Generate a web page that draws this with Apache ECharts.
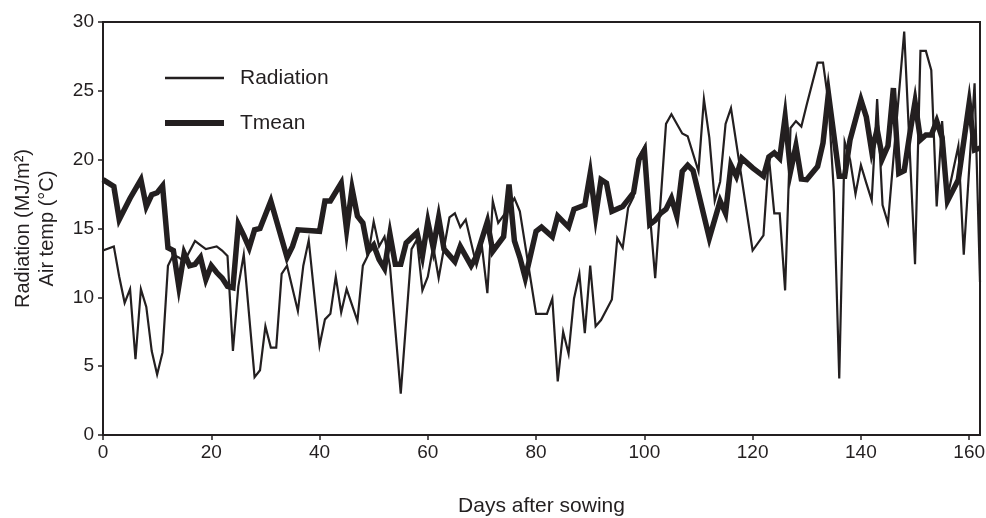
<!DOCTYPE html>
<html>
<head>
<meta charset="utf-8">
<script src="https://cdn.jsdelivr.net/npm/echarts@6/dist/echarts.min.js"></script>
<style>
html,body{margin:0;padding:0;background:#fff;}
#chart{width:986px;height:518px;}
</style>
</head>
<body>
<div id="chart"></div>
<script>
// ---- Data ----
const radDays = [0,2,3,4,5,6,7,8,9,10,11,12,13,14,15,17,18,19,20,21,22,23,24,25,26,28,29,30,31,32,33,34,36,37,38,40,41,42,43,44,45,47,48,49,50,51,52,53,55,57,58,59,60,61,62,64,65,66,67,69,70,71,72,73,75,76,77,80,82,83,84,85,86,87,88,89,90,91,92,94,95,96,97,98,99,100,102,104,105,107,108,110,111,112,113,114,115,116,120,122,123,124,125,126,127,128,129,130,132,133,134,135,136,137,138,139,140,141,142,143,144,145,148,150,151,152,153,154,155,156,158,159,161,162];
const radVals = [13.4,13.7,11.5,9.6,10.6,5.5,10.6,9.3,6.1,4.4,6.0,12.3,13.1,12.9,12.6,14.1,13.8,13.5,13.6,13.7,13.4,13.0,6.1,10.8,13.1,4.2,4.7,7.9,6.35,6.35,11.7,12.3,9.0,12.3,14.15,6.5,8.4,8.8,11.5,8.9,10.6,8.3,12.3,13.1,15.5,13.7,14.4,12.3,3.0,13.5,14.2,10.5,11.5,13.7,11.4,15.8,16.1,15.1,15.65,12.3,13.7,10.3,17.0,15.4,16.5,17.2,16.25,8.8,8.8,9.9,3.9,7.5,5.9,9.9,11.7,7.4,12.3,7.9,8.35,9.85,14.3,13.6,16.5,17.3,20.2,20.9,11.4,22.6,23.3,21.9,21.7,19.15,24.4,21.6,17.0,18.4,22.6,23.75,13.4,14.5,20.2,16.1,16.1,10.5,22.3,22.8,22.4,24.0,27.05,27.05,24.2,17.7,4.1,21.3,20.0,17.5,19.6,18.3,17.05,24.4,16.7,15.4,29.3,12.4,27.9,27.9,26.5,16.6,22.8,17.3,21.0,13.1,25.55,11.1];

const tDays = [0,2,3,5,7,8,9,10,11,12,13,14,15,16,17,18,19,20,21,22,23,24,25,26,27,28,29,31,34,35,36,40,41,42,44,45,46,47,48,49,50,51,52,53,54,55,56,58,59,60,61,62,63,65,66,68,69,71,72,74,75,76,77,78,80,81,83,84,86,87,89,90,91,92,93,94,96,97,98,99,100,101,102,103,104,105,106,107,108,109,112,114,115,116,117,118,120,122,123,124,125,126,127,128,129,130,132,133,134,136,137,138,140,141,142,143,144,145,146,147,148,149,150,151,152,153,154,155,156,158,160,161,162];
const tVals = [18.55,18.05,15.65,17.2,18.55,16.6,17.45,17.6,18.1,13.6,13.4,10.8,13.2,12.3,12.4,12.9,11.3,12.3,11.8,11.4,10.8,10.7,15.3,14.5,13.6,14.9,15.0,17.0,12.9,13.7,14.9,14.8,17.0,17.0,18.3,14.9,17.9,15.9,15.4,13.35,13.8,12.75,12.1,14.6,12.4,12.4,13.95,14.7,13.0,15.5,13.6,15.8,13.5,12.6,13.7,12.3,13.0,15.5,13.35,14.4,18.2,14.1,12.9,11.4,14.8,15.1,14.4,15.9,15.1,16.4,16.7,19.0,15.9,18.55,18.3,16.25,16.6,17.1,17.6,20.0,20.7,15.3,15.6,16.1,16.4,17.2,15.9,19.15,19.6,19.2,14.3,17.0,16.1,19.6,18.8,20.1,19.4,18.8,20.2,20.5,20.1,23.1,19.15,21.0,18.6,18.55,19.5,21.2,24.8,18.8,18.8,21.45,24.35,23.1,20.6,22.2,20.1,21.0,25.2,19.0,19.2,21.8,24.2,21.45,21.8,21.8,22.8,21.6,17.0,18.55,24.1,20.7,20.85];

const xTicks = [0,20,40,60,80,100,120,140,160];
const yTicks = [0,5,10,15,20,25,30];
const seriesNames = ['Radiation','Tmean'];
const xName = 'Days after sowing';
const yName = 'Radiation (MJ/m²)\nAir temp (°C)';

const ink = '#231f20';
const font = 'Liberation Sans, Arial, sans-serif';

function legendFor(name, top, thickness) {
  return {
    data: [name],
    orient: 'vertical',
    left: 165, top: top,
    icon: 'rect',
    itemWidth: 59, itemHeight: thickness,
    itemStyle: {color: ink, borderWidth: 0},
    textStyle: {fontFamily: font, fontSize: 21, color: ink, lineHeight: 22, padding: [0,0,0,11]},
    selectedMode: false,
    padding: 0
  };
}

const chart = echarts.init(document.getElementById('chart'), null, {renderer:'canvas'});
chart.setOption({
  animation: false,
  backgroundColor: '#fff',
  textStyle: {fontFamily: font, color: ink},
  grid: {left: 103, right: 6, top: 22, bottom: 83, outerBoundsMode: 'none', containLabel: false,
         show: true, borderColor: ink, borderWidth: 2, backgroundColor: 'transparent'},
  legend: [legendFor(seriesNames[0], 67, 2.5), legendFor(seriesNames[1], 112, 6)],
  xAxis: {
    type: 'value', min: 0, max: 162, interval: 20,
    name: xName, nameLocation: 'middle', nameGap: 61,
    nameTextStyle: {fontFamily: font, fontSize: 21, color: ink},
    axisLine: {show: true, lineStyle: {color: ink, width: 2}},
    axisTick: {show: true, length: 5, lineStyle: {color: ink, width: 1.5}, customValues: xTicks},
    axisLabel: {fontFamily: font, fontSize: 19, color: ink, margin: 8, customValues: xTicks},
    splitLine: {show: false}
  },
  yAxis: {
    type: 'value', min: 0, max: 30, interval: 5,
    name: yName, nameLocation: 'middle', nameGap: 44, nameRotate: 90,
    nameTextStyle: {fontFamily: font, fontSize: 20, color: ink, lineHeight: 24, align: 'center'},
    axisLine: {show: true, lineStyle: {color: ink, width: 2}},
    axisTick: {show: true, length: 5, lineStyle: {color: ink, width: 1.5}, customValues: yTicks},
    axisLabel: {fontFamily: font, fontSize: 19, color: ink, margin: 9, customValues: yTicks},
    splitLine: {show: false}
  },
  series: [
    {
      name: seriesNames[0], type: 'line', symbol: 'none', showSymbol: false,
      data: radDays.map((d,i) => [d, radVals[i]]),
      lineStyle: {color: ink, width: 2.2, join: 'miter'},
      itemStyle: {color: ink},
      z: 2
    },
    {
      name: seriesNames[1], type: 'line', symbol: 'none', showSymbol: false,
      data: tDays.map((d,i) => [d, tVals[i]]),
      lineStyle: {color: ink, width: 5.5, join: 'miter'},
      itemStyle: {color: ink},
      z: 3
    }
  ]
});
</script>
</body>
</html>
